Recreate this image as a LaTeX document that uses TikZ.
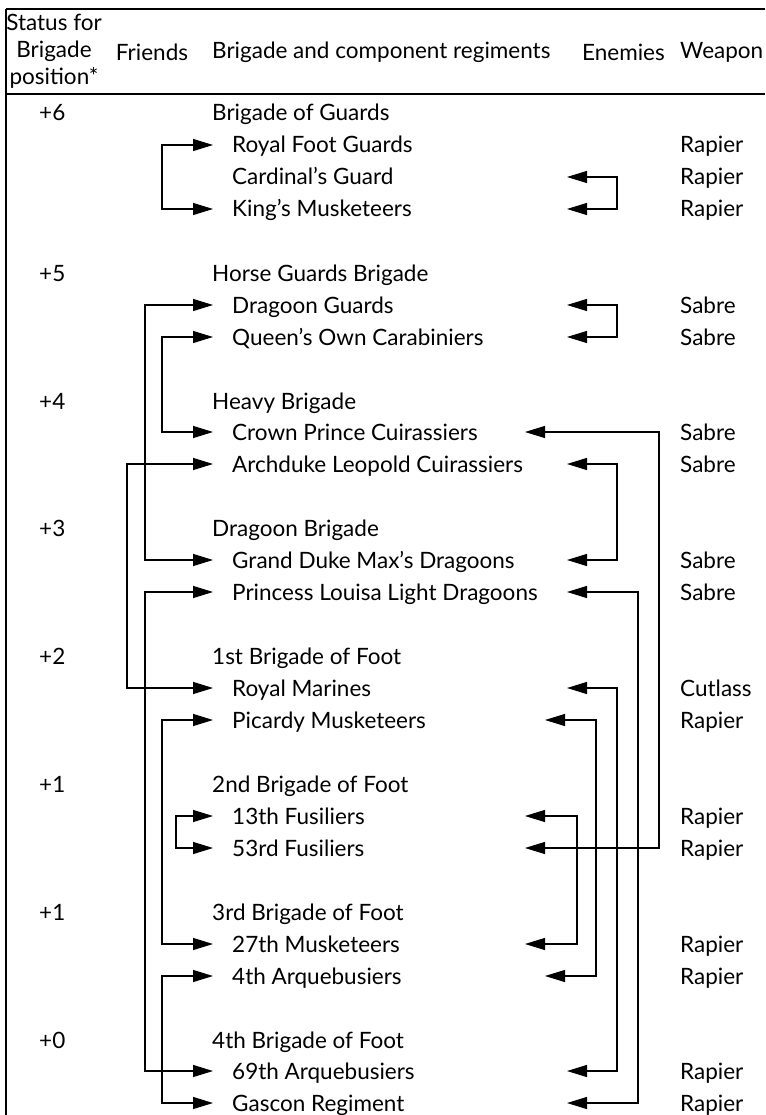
\documentclass[tikz,border=0pt]{standalone}
\usepackage{fontspec}
\setmainfont{Lato}
\usetikzlibrary{arrows.meta}

\begin{document}
\begin{tikzpicture}[x=1pt, y=-1pt,
    every node/.style={font=\fontsize{22.5}{27}\selectfont, inner sep=0pt},
    cell/.style={anchor=west, text height=16pt, text depth=0pt},
    reg/.style={cell, inner xsep=19pt},
    rule/.style={line width=1.4pt},
    link/.style={{Triangle[length=20pt,width=12pt]}-{Triangle[length=20pt,width=12pt]}, line width=1.2pt}
  ]
    \useasboundingbox (0,0) rectangle (765,1115);
    \draw[rule] (6,9) -- (765,9);
    \draw[rule] (6,94) -- (765,94);
    \draw[rule] (6,9) -- (6,1115);

    \node[align=center] (hstatus) at (54,51) {Status for\\Brigade\\position*};
    \node (hfriends) at (152,52) {Friends};
    \node[anchor=west] (hbrigade) at (212,52) {Brigade and component regiments};
    \node[anchor=east] (henemies) at (665,52) {Enemies};
    \node[anchor=west] (hweapon) at (680,52) {Weapon};

    \node[cell] (s6) at (39,113) {+6};
    \node[cell] (bguards) at (212,113) {Brigade of Guards};
    \node[reg] (rfg) at (213,145) {Royal Foot Guards};
    \node[reg] (cg) at (213,177) {Cardinal’s Guard};
    \node[reg] (km) at (213,209) {King’s Musketeers};
    \node[cell] (w-rfg) at (680,145) {Rapier};
    \node[cell] (w-cg) at (680,177) {Rapier};
    \node[cell] (w-km) at (680,209) {Rapier};

    \node[cell] (s5) at (39,273) {+5};
    \node[cell] (bhorse) at (212,273) {Horse Guards Brigade};
    \node[reg] (dg) at (213,305) {Dragoon Guards};
    \node[reg] (qoc) at (213,337) {Queen’s Own Carabiniers};
    \node[cell] (w-dg) at (680,305) {Sabre};
    \node[cell] (w-qoc) at (680,337) {Sabre};

    \node[cell] (s4) at (39,401) {+4};
    \node[cell] (bheavy) at (212,401) {Heavy Brigade};
    \node[reg] (cpc) at (213,432) {Crown Prince Cuirassiers};
    \node[reg] (alc) at (213,464) {Archduke Leopold Cuirassiers};
    \node[cell] (w-cpc) at (680,432) {Sabre};
    \node[cell] (w-alc) at (680,464) {Sabre};

    \node[cell] (s3) at (39,528) {+3};
    \node[cell] (bdragoon) at (212,528) {Dragoon Brigade};
    \node[reg] (gdmd) at (213,560) {Grand Duke Max’s Dragoons};
    \node[reg] (plld) at (213,592) {Princess Louisa Light Dragoons};
    \node[cell] (w-gdmd) at (680,560) {Sabre};
    \node[cell] (w-plld) at (680,592) {Sabre};

    \node[cell] (s2) at (39,656) {+2};
    \node[cell] (bfoot1) at (212,656) {1st Brigade of Foot};
    \node[reg] (rm) at (213,688) {Royal Marines};
    \node[reg] (pm) at (213,720) {Picardy Musketeers};
    \node[cell] (w-rm) at (680,688) {Cutlass};
    \node[cell] (w-pm) at (680,720) {Rapier};

    \node[cell] (s1a) at (39,784) {+1};
    \node[cell] (bfoot2) at (212,784) {2nd Brigade of Foot};
    \node[reg] (fus13) at (213,816) {13th Fusiliers};
    \node[reg] (fus53) at (213,848) {53rd Fusiliers};
    \node[cell] (w-fus13) at (680,816) {Rapier};
    \node[cell] (w-fus53) at (680,848) {Rapier};

    \node[cell] (s1b) at (39,912) {+1};
    \node[cell] (bfoot3) at (212,912) {3rd Brigade of Foot};
    \node[reg] (mus27) at (213,944) {27th Musketeers};
    \node[reg] (arq4) at (213,976) {4th Arquebusiers};
    \node[cell] (w-mus27) at (680,944) {Rapier};
    \node[cell] (w-arq4) at (680,976) {Rapier};

    \node[cell] (s0) at (39,1040) {+0};
    \node[cell] (bfoot4) at (212,1040) {4th Brigade of Foot};
    \node[reg] (arq69) at (213,1071) {69th Arquebusiers};
    \node[reg] (gascon) at (213,1103) {Gascon Regiment};
    \node[cell] (w-arq69) at (680,1071) {Rapier};
    \node[cell] (w-gascon) at (680,1103) {Rapier};

    \draw[link] (rfg.west) -| (162,0 |- km.west) -- (km.west);
    \draw[link] (dg.west) -| (145,0 |- gdmd.west) -- (gdmd.west);
    \draw[link] (qoc.west) -| (162,0 |- cpc.west) -- (cpc.west);
    \draw[link] (alc.west) -| (127,0 |- rm.west) -- (rm.west);
    \draw[link] (plld.west) -| (145,0 |- arq69.west) -- (arq69.west);
    \draw[link] (pm.west) -| (162,0 |- mus27.west) -- (mus27.west);
    \draw[link] (fus13.west) -| (176,0 |- fus53.west) -- (fus53.west);
    \draw[link] (arq4.west) -| (162,0 |- gascon.west) -- (gascon.west);

    \draw[link] (567,0 |- cg.west) -| (617,0 |- km.west) -- (567,0 |- km.west);
    \draw[link] (567,0 |- dg.west) -| (617,0 |- qoc.west) -- (567,0 |- qoc.west);
    \draw[link] (525,0 |- cpc.west) -| (659,0 |- fus53.west) -- (525,0 |- fus53.west);
    \draw[link] (567,0 |- alc.west) -| (617,0 |- gdmd.west) -- (567,0 |- gdmd.west);
    \draw[link] (567,0 |- plld.west) -| (638,0 |- gascon.west) -- (567,0 |- gascon.west);
    \draw[link] (567,0 |- rm.west) -| (617,0 |- arq69.west) -- (567,0 |- arq69.west);
    \draw[link] (545,0 |- pm.west) -| (596,0 |- arq4.west) -- (545,0 |- arq4.west);
    \draw[link] (525,0 |- fus13.west) -| (577,0 |- mus27.west) -- (525,0 |- mus27.west);
  \end{tikzpicture}
\end{document}
